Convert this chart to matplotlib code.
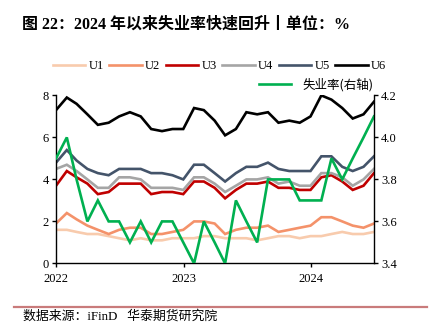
import matplotlib

matplotlib.use("Agg")

import matplotlib.pyplot as plt
import matplotlib.dates as mdates
from matplotlib.lines import Line2D
import pandas as pd

plt.rcParams["font.family"] = ["Liberation Serif", "Noto Sans CJK SC", "DejaVu Sans"]

# Monthly, month-end dates: Dec 2021 .. Jun 2024
dates = pd.date_range("2021-12-31", "2024-06-30", freq="ME")

u1 = [1.6, 1.6, 1.5, 1.4, 1.4, 1.3, 1.2, 1.1, 1.2, 1.1, 1.1, 1.2, 1.2, 1.2, 1.3, 1.3,
      1.2, 1.2, 1.2, 1.1, 1.2, 1.3, 1.3, 1.2, 1.3, 1.3, 1.4, 1.5, 1.4, 1.4, 1.5]
u2 = [1.9, 2.4, 2.1, 1.8, 1.6, 1.4, 1.6, 1.7, 1.7, 1.4, 1.4, 1.5, 1.6, 2.0, 2.0, 1.9,
      1.4, 1.6, 1.7, 1.7, 1.8, 1.5, 1.6, 1.7, 1.8, 2.2, 2.2, 2.0, 1.8, 1.7, 1.9]
u3 = [3.7, 4.4, 4.1, 3.8, 3.3, 3.4, 3.8, 3.8, 3.8, 3.3, 3.4, 3.4, 3.3, 3.9, 3.9, 3.6,
      3.1, 3.5, 3.8, 3.8, 3.9, 3.6, 3.6, 3.5, 3.5, 4.1, 4.2, 3.9, 3.5, 3.7, 4.3]
u4 = [4.5, 4.7, 4.4, 4.0, 3.6, 3.6, 4.1, 4.1, 4.0, 3.6, 3.6, 3.6, 3.5, 4.1, 4.1, 3.8,
      3.4, 3.7, 4.0, 4.0, 4.1, 3.8, 3.9, 3.7, 3.7, 4.3, 4.3, 4.1, 3.7, 4.0, 4.5]
u5 = [4.8, 5.4, 4.9, 4.5, 4.3, 4.2, 4.5, 4.5, 4.5, 4.3, 4.3, 4.2, 4.0, 4.7, 4.7, 4.3,
      3.9, 4.3, 4.6, 4.6, 4.8, 4.5, 4.4, 4.4, 4.4, 5.1, 5.1, 4.6, 4.4, 4.6, 5.1]
u6 = [7.3, 7.9, 7.6, 7.1, 6.6, 6.7, 7.0, 7.2, 7.0, 6.4, 6.3, 6.4, 6.4, 7.4, 7.3, 6.8,
      6.1, 6.4, 7.2, 7.1, 7.2, 6.7, 6.8, 6.7, 7.0, 8.0, 7.8, 7.4, 6.9, 7.1, 7.7]
unemployment = [3.9, 4.0, 3.8, 3.6, 3.7, 3.6, 3.6, 3.5, 3.6, 3.5, 3.6, 3.6, 3.5, 3.4, 3.6, 3.5,
                3.4, 3.7, 3.6, 3.5, 3.8, 3.8, 3.8, 3.7, 3.7, 3.7, 3.9, 3.8, 3.9, 4.0, 4.1]

series = [
    ("U1", u1, "#F8CBAD"),
    ("U2", u2, "#F4926A"),
    ("U3", u3, "#C00000"),
    ("U4", u4, "#A5A5A5"),
    ("U5", u5, "#44546A"),
    ("U6", u6, "#000000"),
]
rate_label = "失业率(右轴)"
rate_color = "#00B050"

fig = plt.figure(figsize=(4.41, 3.36), dpi=100)
ax = fig.add_axes([0.127, 0.216, 0.721, 0.500])
ax2 = ax.twinx()

lw = 1.9
handles = []
for name, values, color in series:
    (line,) = ax.plot(dates, values, color=color, lw=lw, label=name, solid_joinstyle="miter")
    handles.append(line)
ax2.plot(dates, unemployment, color=rate_color, lw=lw, solid_joinstyle="miter")

ax.set_xlim(dates[0], dates[-1])
ax.set_ylim(0, 8)
ax.set_yticks([0, 2, 4, 6, 8])
ax2.set_ylim(3.4, 4.2)
ax2.set_yticks([3.4, 3.6, 3.8, 4.0, 4.2])
ax2.set_yticklabels(["3.4", "3.6", "3.8", "4.0", "4.2"])

ax.xaxis.set_major_locator(mdates.YearLocator())
ax.xaxis.set_major_formatter(mdates.DateFormatter("%Y"))

for a in (ax, ax2):
    a.spines["top"].set_visible(False)
    for side in ("left", "right", "bottom"):
        a.spines[side].set_color("#000000")
        a.spines[side].set_linewidth(1.0)
    a.tick_params(direction="out", length=3, width=1.0, labelsize=9, colors="#000000", pad=2)
ax.tick_params(axis="x", pad=4)
ax2.spines["left"].set_visible(False)
ax2.spines["bottom"].set_visible(False)
ax.spines["right"].set_visible(False)

fig.legend(
    handles=handles, loc="center", bbox_to_anchor=(0.498, 0.803), ncol=6, frameon=False,
    fontsize=9, handlelength=2.6, handletextpad=0.25, columnspacing=0.45, borderpad=0,
)
fig.legend(
    handles=[Line2D([], [], color=rate_color, lw=lw)], labels=[rate_label],
    loc="center", bbox_to_anchor=(0.717, 0.748), frameon=False,
    handlelength=2.6, handletextpad=0.9, borderpad=0,
    prop={"family": ["Noto Sans CJK SC"], "size": 9},
)

fig.text(0.05, 0.926, "图 22：2024 年以来失业率快速回升丨单位：%", fontsize=11.5,
         fontweight="bold", ha="left", va="center",
         family=["Liberation Serif", "Noto Sans CJK SC"])

fig.add_artist(Line2D([0.032, 0.968], [0.087, 0.087], color="#C97B7B", lw=1.6,
                      transform=fig.transFigure))
fig.text(0.052, 0.058, "数据来源：iFinD   华泰期货研究院", fontsize=9.3, ha="left", va="center",
         family=["Liberation Serif", "Noto Sans CJK SC"])

fig.savefig("out.png", dpi=100)
